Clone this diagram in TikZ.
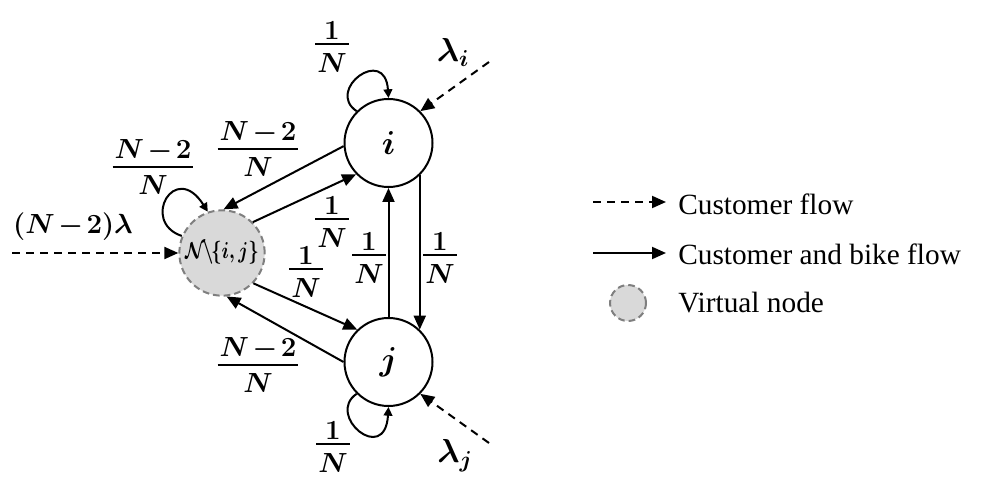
\documentclass[tikz,border=0pt]{standalone}
\usepackage{fontspec}
\usepackage{amsmath}
\usepackage{graphicx}
\usetikzlibrary{arrows.meta}
\newfontfamily\legendfont{Liberation Serif}
\definecolor{vfill}{HTML}{D9D9D9}
\definecolor{vdraw}{HTML}{7F7F7F}
\newcommand{\myfrac}[2]{%
  \setbox0\hbox{$#1$}\setbox2\hbox{$#2$}%
  \dimen0=\wd0 \ifdim\wd2>\dimen0 \dimen0=\wd2\fi
  \advance\dimen0 by 3pt
  \vbox{\hbox to\dimen0{\hss\box0\hss}\kern2.5pt\hrule height1.5pt\kern6pt\hbox to\dimen0{\hss\box2\hss}}}
\tikzset{
  st/.style={circle, draw, line width=1.5pt, minimum size=66pt, inner sep=0pt, font=\fontsize{26}{30}\selectfont\boldmath},
  vnode/.style={circle, draw=vdraw, fill=vfill, dashed, dash pattern=on 5pt off 3pt, line width=1.5pt, minimum size=64pt, inner sep=0pt, font=\fontsize{18}{20}\selectfont\boldmath},
  lab/.style={inner sep=0pt, font=\fontsize{22}{26}\selectfont\boldmath},
  biglab/.style={inner sep=0pt, font=\fontsize{25}{28}\selectfont\boldmath},
  flow/.style={line width=1.5pt, -{Triangle[length=10.5pt,width=9pt]}},
  cflow/.style={line width=1.5pt, dash pattern=on 6pt off 4.5pt, -{Triangle[length=10.5pt,width=9pt]}},
  loopflow/.style={line width=1.5pt, -{Triangle[length=6.5pt,width=6.5pt]}},
  legtext/.style={anchor=west, inner sep=0pt, font=\fontsize{22}{26}\selectfont\legendfont},
}
\begin{document}
\begin{tikzpicture}[x=0.75pt,y=-0.75pt]
\useasboundingbox (0,0) rectangle (981,477);

% nodes
\node[st] (i) at (388.5,143) {$i$};
\node[st] (j) at (388.5,362) {$j$};
\node[vnode] (v) at (222,253) {\scalebox{0.8}[1]{$\mathcal{N}\mkern-2mu\backslash\mkern-2mu\{i,j\}$}};

% self loops
\draw[loopflow] (i.135) .. controls (325,90) and (385,45) .. (i.90);
\draw[loopflow] (j.225) .. controls (325,415) and (385,466) .. (j.270);
\draw[loopflow] (v.157) .. controls (140,222) and (175,160) .. (v.109);

% connectors between nodes
\draw[flow] (i.184) -- (v.88);
\draw[flow] (v.45) -- (i.224);
\draw[flow] (v.316) -- (j.134);
\draw[flow] (j.180) -- (v.276);
\draw[flow] (j.90) -- (i.270);
\draw[flow] (i.314) -- (j.46);

% customer arrivals
\coordinate (ai) at (489,62);
\coordinate (aj) at (489,443);
\coordinate (av) at (12,253);
\draw[cflow] (ai) -- (i.45);
\draw[cflow] (aj) -- (j.315);
\draw[cflow] (av) -- (v.west);

% labels
\node[lab] (l1) at (332,47) {\myfrac{1}{N}};
\node[biglab] (l2) at (453,52) {$\lambda_{i}$};
\node[lab] (l3) at (153,167) {\myfrac{N\mkern-2mu-\mkern-2mu2}{N}};
\node[lab] (l4) at (258,149) {\myfrac{N\mkern-2mu-\mkern-2mu2}{N}};
\node[lab] (l5) at (73,227) {$(N\mkern-2mu-\mkern-2mu2)\lambda$};
\node[lab] (l6) at (332,222) {\myfrac{1}{N}};
\node[lab] (l7) at (306,272) {\myfrac{1}{N}};
\node[lab] (l8) at (369,258) {\myfrac{1}{N}};
\node[lab] (l9) at (440,258) {\myfrac{1}{N}};
\node[lab] (l10) at (258,365) {\myfrac{N\mkern-2mu-\mkern-2mu2}{N}};
\node[lab] (l11) at (333,447) {\myfrac{1}{N}};
\node[biglab] (l12) at (455,456) {$\lambda_{j}$};

% legend
\coordinate (d1) at (593,202);
\coordinate (d2) at (666,202);
\coordinate (s1) at (593,253);
\coordinate (s2) at (666,253);
\draw[cflow] (d1) -- (d2);
\draw[flow] (s1) -- (s2);
\node[vnode, minimum size=27pt] (lv) at (628,303) {};
\node[legtext] (t1) at (678,204) {Customer flow};
\node[legtext] (t2) at (678,254) {Customer and bike flow};
\node[legtext] (t3) at (678,303) {Virtual node};
\end{tikzpicture}
\end{document}
